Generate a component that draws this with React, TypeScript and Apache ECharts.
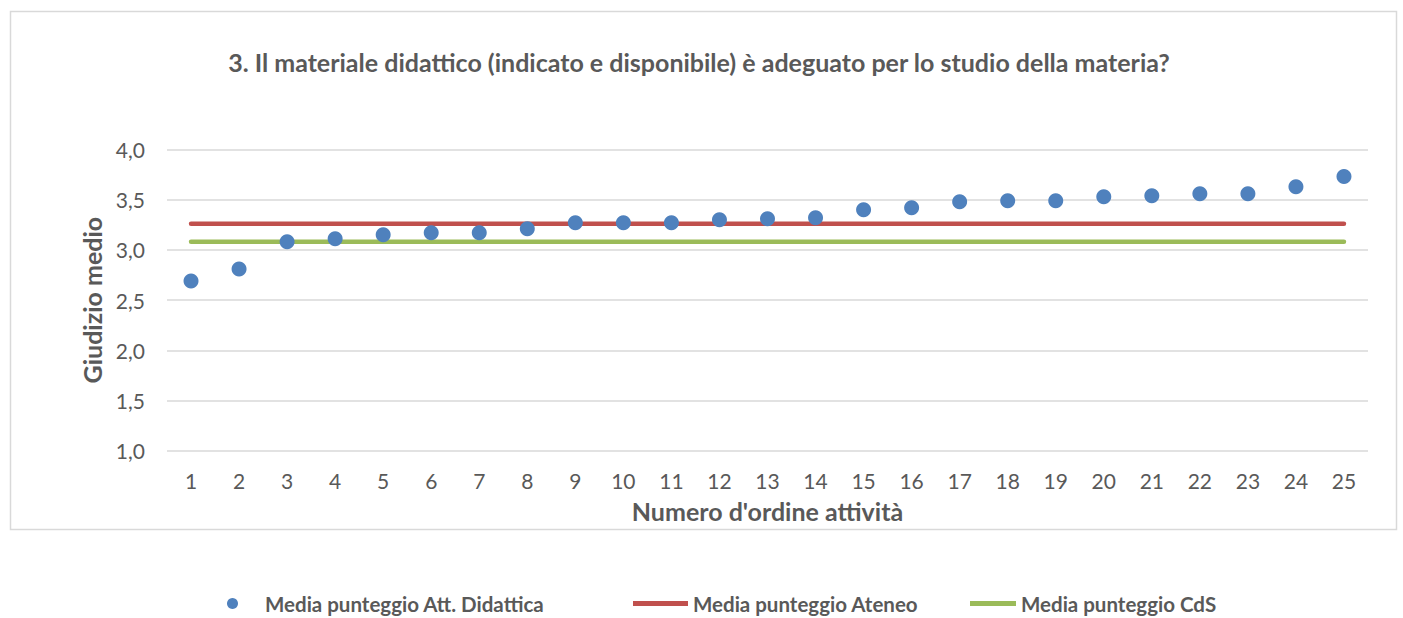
import React, { useEffect, useRef } from "react";
import * as echarts from "echarts";

const categories = ["1", "2", "3", "4", "5", "6", "7", "8", "9", "10", "11", "12", "13", "14", "15", "16", "17", "18", "19", "20", "21", "22", "23", "24", "25"];
const attDidattica = [2.69, 2.81, 3.08, 3.11, 3.15, 3.17, 3.17, 3.21, 3.27, 3.27, 3.27, 3.30, 3.31, 3.32, 3.40, 3.42, 3.48, 3.49, 3.49, 3.53, 3.54, 3.56, 3.56, 3.63, 3.73];
const mediaAteneo = 3.26;
const mediaCdS = 3.08;
const seriesNames = ["Media punteggio Att. Didattica", "Media punteggio Ateneo", "Media punteggio CdS"];
const titleText = "3. Il materiale didattico (indicato e disponibile) è adeguato per lo studio della materia?";
const xAxisName = "Numero d'ordine attività";
const yAxisName = "Giudizio medio";

const FONT = "Lato, 'Open Sans', sans-serif";
const TEXT = "#595959";

export default function App() {
  const ref = useRef<HTMLDivElement>(null);
  useEffect(() => {
    if (!ref.current) return;
    const chart = echarts.init(ref.current, undefined, { renderer: "svg" });
    const legendText = { color: TEXT, fontSize: 20.5, fontWeight: "bold" as const, fontFamily: FONT };
    chart.setOption({
      animation: false,
      backgroundColor: "#ffffff",
      textStyle: { fontFamily: FONT },
      title: {
        text: titleText,
        left: 694,
        textAlign: "center",
        top: 44,
        textStyle: { color: TEXT, fontSize: 25, fontWeight: "bold", fontFamily: FONT },
      },
      graphic: [
        {
          type: "rect",
          shape: { x: 10.5, y: 11.5, width: 1386, height: 518 },
          style: { fill: "none", stroke: "#D9D9D9", lineWidth: 1.5 },
          silent: true,
        },
      ],
      grid: { left: 167, right: 35, top: 149.5, height: 301.2 },
      xAxis: {
        type: "category",
        data: categories,
        boundaryGap: true,
        axisLine: { show: false },
        axisTick: { show: false },
        axisLabel: { color: TEXT, fontSize: 21, margin: 19, fontFamily: FONT },
        name: xAxisName,
        nameLocation: "middle",
        nameGap: 48,
        nameTextStyle: { color: TEXT, fontSize: 25, fontWeight: "bold", fontFamily: FONT },
      },
      yAxis: {
        type: "value",
        min: 1,
        max: 4,
        interval: 0.5,
        axisLine: { show: false },
        axisTick: { show: false },
        splitLine: { lineStyle: { color: "#D9D9D9", width: 1.5 } },
        axisLabel: {
          color: TEXT,
          fontSize: 21,
          margin: 22,
          fontFamily: FONT,
          formatter: (v: number) => v.toFixed(1).replace(".", ","),
        },
        name: yAxisName,
        nameLocation: "middle",
        nameGap: 62,
        nameTextStyle: { color: TEXT, fontSize: 25, fontWeight: "bold", fontFamily: FONT },
      },
      legend: [
        {
          data: [{ name: seriesNames[0], icon: "circle" }],
          left: 227,
          top: 593,
          padding: 0,
          itemWidth: 11,
          itemHeight: 11,
          textStyle: { ...legendText, padding: [0, 0, 0, 22] },
        },
        {
          data: [{ name: seriesNames[1], icon: "rect" }],
          left: 633,
          top: 593,
          padding: 0,
          itemWidth: 55,
          itemHeight: 5,
          textStyle: legendText,
        },
        {
          data: [{ name: seriesNames[2], icon: "rect" }],
          left: 970,
          top: 593,
          padding: 0,
          itemWidth: 46,
          itemHeight: 5,
          textStyle: legendText,
        },
      ],
      series: [
        {
          name: seriesNames[1],
          type: "line",
          data: categories.map(() => mediaAteneo),
          showSymbol: false,
          color: "#C0504D",
          lineStyle: { color: "#C0504D", width: 4.5, cap: "round" },
          z: 2,
        },
        {
          name: seriesNames[2],
          type: "line",
          data: categories.map(() => mediaCdS),
          showSymbol: false,
          color: "#9BBB59",
          lineStyle: { color: "#9BBB59", width: 4.5, cap: "round" },
          z: 2,
        },
        {
          name: seriesNames[0],
          type: "scatter",
          data: attDidattica,
          symbol: "circle",
          symbolSize: 15,
          itemStyle: { color: "#4F81BD", opacity: 1 },
          z: 3,
        },
      ],
    });
    return () => chart.dispose();
  }, []);
  return <div ref={ref} style={{ position: "fixed", left: 0, top: 0, width: 1403, height: 618 }} />;
}
